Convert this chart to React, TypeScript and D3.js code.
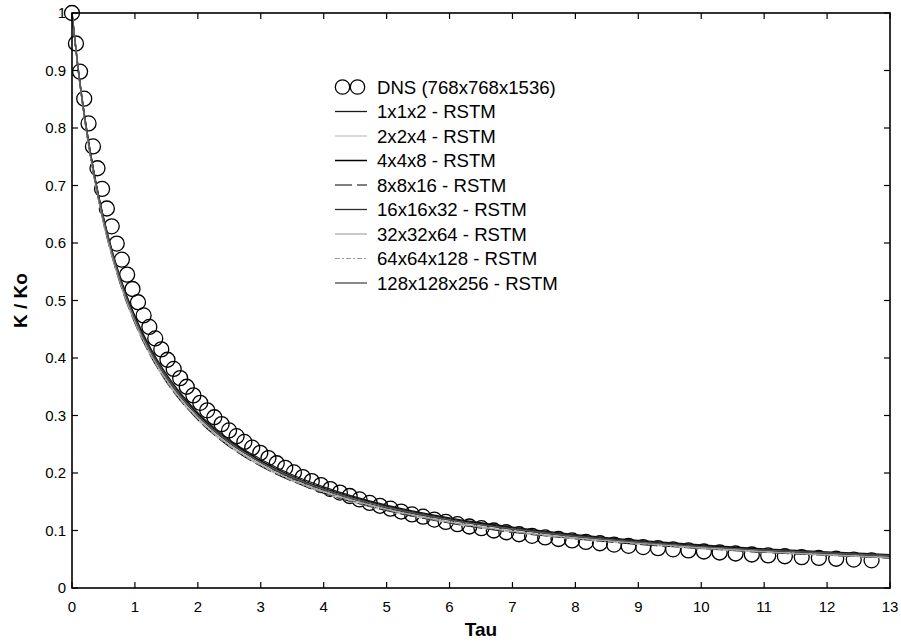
import React from "react";
import * as d3 from "d3";

// ---------- data ----------
const xTicks = [0, 1, 2, 3, 4, 5, 6, 7, 8, 9, 10, 11, 12, 13];
const xTickLabels = ["0", "1", "2", "3", "4", "5", "6", "7", "8", "9", "10", "11", "12", "13"];
const yTicks = [0, 0.1, 0.2, 0.3, 0.4, 0.5, 0.6, 0.7, 0.8, 0.9, 1];
const yTickLabels = ["0", "0.1", "0.2", "0.3", "0.4", "0.5", "0.6", "0.7", "0.8", "0.9", "1"];

const dnsTau = [
  0, 0.063, 0.128, 0.194, 0.263, 0.333, 0.405, 0.478, 0.554, 0.631, 0.711, 0.792, 0.876, 0.961,
  1.049, 1.138, 1.229, 1.323, 1.419, 1.517, 1.616, 1.719, 1.823, 1.929, 2.038, 2.149, 2.262, 2.378,
  2.496, 2.616, 2.739, 2.864, 2.992, 3.122, 3.254, 3.389, 3.527, 3.668, 3.811, 3.957, 4.106, 4.258,
  4.413, 4.57, 4.731, 4.894, 5.061, 5.231, 5.403, 5.579, 5.758, 5.94, 6.126, 6.315, 6.507, 6.703,
  6.902, 7.105, 7.311, 7.52, 7.732, 7.948, 8.167, 8.39, 8.615, 8.845, 9.077, 9.313, 9.553, 9.796,
  10.043, 10.293, 10.546, 10.804, 11.064, 11.329, 11.597, 11.869, 12.145, 12.424, 12.707,
];
const dnsK = [
  1, 0.947, 0.898, 0.851, 0.808, 0.768, 0.73, 0.694, 0.66, 0.629, 0.599, 0.571, 0.545, 0.52,
  0.497, 0.474, 0.454, 0.434, 0.415, 0.397, 0.381, 0.365, 0.35, 0.335, 0.322, 0.309, 0.297, 0.285,
  0.274, 0.264, 0.254, 0.244, 0.235, 0.226, 0.217, 0.209, 0.201, 0.193, 0.186, 0.179, 0.172, 0.166,
  0.16, 0.154, 0.148, 0.143, 0.138, 0.133, 0.128, 0.124, 0.119, 0.115, 0.111, 0.107, 0.104, 0.1,
  0.097, 0.0935, 0.0907, 0.0879, 0.0852, 0.0827, 0.0802, 0.0778, 0.0755, 0.0733, 0.0712, 0.0692,
  0.0672, 0.0653, 0.0635, 0.0617, 0.06, 0.0583, 0.0567, 0.0552, 0.0537, 0.0523, 0.0509, 0.0495, 0.0482,
];

const rstmTau = [0, 0.1, 0.2, 0.35, 0.5, 0.75, 1, 1.25, 1.5, 2, 2.5, 3, 3.5, 4, 5, 6, 7, 8, 9, 10, 11, 12, 13];
const k1x1x2 = [1, 0.902, 0.821, 0.723, 0.645, 0.546, 0.473, 0.417, 0.372, 0.305, 0.258, 0.224, 0.197, 0.176, 0.144, 0.122, 0.106, 0.093, 0.083, 0.075, 0.068, 0.063, 0.058];
const k2x2x4 = [1, 0.899, 0.815, 0.715, 0.635, 0.534, 0.46, 0.403, 0.358, 0.292, 0.246, 0.212, 0.186, 0.165, 0.134, 0.113, 0.097, 0.085, 0.076, 0.068, 0.062, 0.057, 0.052];
const k4x4x8 = [1, 0.901, 0.82, 0.721, 0.643, 0.543, 0.47, 0.413, 0.368, 0.302, 0.255, 0.221, 0.194, 0.173, 0.142, 0.12, 0.104, 0.091, 0.081, 0.073, 0.067, 0.061, 0.056];
const k8x8x16 = [1, 0.899, 0.816, 0.715, 0.636, 0.535, 0.461, 0.404, 0.359, 0.293, 0.246, 0.212, 0.186, 0.165, 0.135, 0.113, 0.097, 0.086, 0.076, 0.069, 0.062, 0.057, 0.052];
const k16x16x32 = [1, 0.9, 0.818, 0.719, 0.64, 0.54, 0.467, 0.41, 0.365, 0.299, 0.252, 0.218, 0.191, 0.17, 0.139, 0.118, 0.102, 0.089, 0.079, 0.072, 0.065, 0.06, 0.055];
const k32x32x64 = [1, 0.9, 0.817, 0.717, 0.638, 0.537, 0.463, 0.407, 0.362, 0.295, 0.249, 0.215, 0.188, 0.168, 0.137, 0.115, 0.099, 0.087, 0.078, 0.07, 0.063, 0.058, 0.053];
const k64x64x128 = [1, 0.899, 0.816, 0.716, 0.636, 0.536, 0.462, 0.405, 0.36, 0.294, 0.247, 0.213, 0.187, 0.166, 0.136, 0.114, 0.098, 0.086, 0.077, 0.069, 0.063, 0.057, 0.053];
const k128x128x256 = [1, 0.901, 0.819, 0.72, 0.642, 0.542, 0.468, 0.411, 0.367, 0.3, 0.254, 0.219, 0.193, 0.172, 0.141, 0.119, 0.103, 0.09, 0.08, 0.072, 0.066, 0.061, 0.056];

const dnsLabel = "DNS (768x768x1536)";
const rstmLabels = [
  "1x1x2 - RSTM",
  "2x2x4 - RSTM",
  "4x4x8 - RSTM",
  "8x8x16 - RSTM",
  "16x16x32 - RSTM",
  "32x32x64 - RSTM",
  "64x64x128 - RSTM",
  "128x128x256 - RSTM",
];
const rstmValues = [k1x1x2, k2x2x4, k4x4x8, k8x8x16, k16x16x32, k32x32x64, k64x64x128, k128x128x256];

// styles (kept separate from data)
const rstmStyles = [
  { stroke: "#1a1a1a", width: 1.3, dash: "" },
  { stroke: "#c4c4c4", width: 1.3, dash: "" },
  { stroke: "#000000", width: 1.5, dash: "" },
  { stroke: "#000000", width: 1.2, dash: "17,5" },
  { stroke: "#2e2e2e", width: 1.3, dash: "" },
  { stroke: "#ababab", width: 1.3, dash: "" },
  { stroke: "#9a9a9a", width: 1.2, dash: "5,2,2,2" },
  { stroke: "#555555", width: 1.4, dash: "" },
];

const FONT = "'Liberation Sans', Arial, Helvetica, sans-serif";

export default function App() {
  const W = 901;
  const H = 644;
  const left = 72, right = 890, top = 13, bottom = 588;
  const x = d3.scaleLinear().domain([0, 13]).range([left, right]);
  const y = d3.scaleLinear().domain([0, 1]).range([bottom, top]);
  const tick = 6;

  const line = d3
    .line<[number, number]>()
    .x((d) => x(d[0]))
    .y((d) => y(d[1]))
    .curve(d3.curveMonotoneX);

  const legendX0 = 335;
  const legendX1 = 367;
  const legendTextX = 377;
  const legendY0 = 87;
  const legendStep = 24.5;

  return (
    <svg
      width={W}
      height={H}
      viewBox={`0 0 ${W} ${H}`}
      style={{ position: "absolute", left: 0, top: 0, background: "#fff" }}
      fontFamily={FONT}
    >
      <rect x={0} y={0} width={W} height={H} fill="#fff" />

      {/* DNS circles */}
      <g fill="none" stroke="#000" strokeWidth={1.3}>
        {dnsTau.map((t, i) => (
          <circle key={i} cx={x(t)} cy={y(dnsK[i])} r={7.5} />
        ))}
      </g>

      {/* RSTM lines */}
      <g fill="none">
        {rstmValues.map((vals, s) => (
          <path
            key={s}
            d={line(rstmTau.map((t, i) => [t, vals[i]] as [number, number])) || ""}
            stroke={rstmStyles[s].stroke}
            strokeWidth={rstmStyles[s].width}
            strokeDasharray={rstmStyles[s].dash || undefined}
          />
        ))}
      </g>

      {/* frame */}
      <rect
        x={left}
        y={top}
        width={right - left}
        height={bottom - top}
        fill="none"
        stroke="#000"
        strokeWidth={1.6}
      />

      {/* ticks */}
      <g stroke="#000" strokeWidth={1.2}>
        {xTicks.map((v, i) => (
          <g key={i}>
            <line x1={x(v)} x2={x(v)} y1={bottom} y2={bottom - tick} />
            <line x1={x(v)} x2={x(v)} y1={top} y2={top + tick} />
          </g>
        ))}
        {yTicks.map((v, i) => (
          <g key={i}>
            <line x1={left} x2={left + tick} y1={y(v)} y2={y(v)} />
            <line x1={right} x2={right - tick} y1={y(v)} y2={y(v)} />
          </g>
        ))}
      </g>

      {/* tick labels */}
      <g fontSize={15} fill="#000">
        {xTicks.map((v, i) => (
          <text key={i} x={x(v)} y={612} textAnchor="middle">
            {xTickLabels[i]}
          </text>
        ))}
        {yTicks.map((v, i) => (
          <text key={i} x={66} y={y(v)} dy="0.36em" textAnchor="end">
            {yTickLabels[i]}
          </text>
        ))}
      </g>

      {/* axis titles */}
      <text x={(left + right) / 2} y={636} textAnchor="middle" fontSize={19} fontWeight="bold">
        Tau
      </text>
      <text
        transform={`translate(27, ${(top + bottom) / 2}) rotate(-90)`}
        textAnchor="middle"
        fontSize={19}
        fontWeight="bold"
      >
        K / Ko
      </text>

      {/* legend */}
      <g>
        <circle cx={legendX0 + 7.5} cy={legendY0} r={7.2} fill="none" stroke="#000" strokeWidth={1.3} />
        <circle cx={legendX0 + 22.5} cy={legendY0} r={7.2} fill="none" stroke="#000" strokeWidth={1.3} />
        <text x={legendTextX} y={legendY0} dy="0.35em" fontSize={18.6}>
          {dnsLabel}
        </text>
        {rstmLabels.map((lab, i) => {
          const yy = legendY0 + legendStep * (i + 1);
          return (
            <g key={i}>
              <line
                x1={legendX0}
                x2={legendX1}
                y1={yy}
                y2={yy}
                stroke={rstmStyles[i].stroke}
                strokeWidth={rstmStyles[i].width}
                strokeDasharray={rstmStyles[i].dash || undefined}
              />
              <text x={legendTextX} y={yy} dy="0.35em" fontSize={18.6}>
                {lab}
              </text>
            </g>
          );
        })}
      </g>
    </svg>
  );
}
